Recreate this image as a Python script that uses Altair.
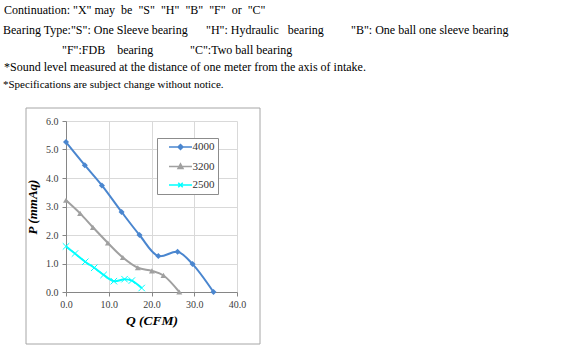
import altair as alt
import pandas as pd

# ---------------- data ----------------
series_names = ["4000", "3200", "2500"]
series_colors = ["#4a86cf", "#a0a0a0", "#00ffff"]

q_4000 = [0.0, 4.4, 8.4, 13.0, 17.2, 21.6, 26.1, 29.6, 34.5]
p_4000 = [5.26, 4.45, 3.74, 2.81, 2.00, 1.26, 1.41, 0.98, 0.00]

q_3200 = [0.0, 3.3, 6.3, 9.8, 13.3, 16.8, 20.1, 22.8, 26.5]
p_3200 = [3.22, 2.76, 2.27, 1.72, 1.21, 0.85, 0.74, 0.58, 0.00]

q_2500 = [0.0, 2.1, 4.5, 6.6, 8.8, 11.2, 13.7, 15.4, 17.7]
p_2500 = [1.60, 1.35, 1.06, 0.85, 0.60, 0.38, 0.45, 0.40, 0.14]

x_ticks = [0, 10, 20, 30, 40]
y_ticks = [0, 1, 2, 3, 4, 5, 6]

header_texts = [
    'Continuation: "X" may\u00a0 be\u00a0 "S"\u00a0 "H"\u00a0 "B"\u00a0 "F"\u00a0 or\u00a0 "C"',
    'Bearing Type:"S": One Sleeve bearing',
    '"H": Hydraulic\u00a0\u00a0 bearing',
    '"B": One ball one sleeve bearing',
    '"F":FDB\u00a0\u00a0\u00a0 bearing',
    '"C":Two ball bearing',
    '*Sound level measured at the distance of one meter from the axis of intake.',
    '*Specifications are subject change without notice.',
]

# ---------------- layout / style ----------------
OX, OY = 66, 121          # plot origin in page pixels
PW, PH = 171, 171          # plot size
header_x = [4, 3, 206, 351, 62, 190, 4, 3]
header_y = [9.5, 29.5, 29.5, 29.5, 49.5, 49.5, 67, 84.5]
header_size = [12, 12, 12, 12, 12, 12, 12, 11]
SERIF = "Liberation Serif"

frames = []
for name, qs, ps in [("4000", q_4000, p_4000), ("3200", q_3200, p_3200), ("2500", q_2500, p_2500)]:
    frames.append(pd.DataFrame({"series": name, "Q": qs, "P": ps}))
df = pd.concat(frames, ignore_index=True)

color_scale = alt.Scale(domain=series_names, range=series_colors)

# legend glyphs: line segment + marker (1 unit = 5 px at symbolSize 100)
legend_paths = [
    "M-2.3,0H2.3M0,-0.5L0.5,0L0,0.5L-0.5,0Z",
    "M-2.3,0H2.3M0,-0.55L0.5,0.4L-0.5,0.4Z",
    "M-2.3,0H2.3M-0.45,-0.45L0.45,0.45M-0.45,0.45L0.45,-0.45",
]

X = alt.X(
    "Q:Q",
    scale=alt.Scale(domain=[0, 40], nice=False, zero=False),
    axis=alt.Axis(
        values=x_ticks, format=".1f", title="Q (CFM)",
        titleFont=SERIF, titleFontStyle="italic", titleFontWeight="bold",
        titleFontSize=13.5, titleColor="black", titlePadding=4,
        labelFont=SERIF, labelFontSize=10, labelColor="#404040", labelPadding=3,
        domainColor="#868686", tickColor="#868686", tickSize=4,
        gridColor="#d9d9d9", labelFlush=False,
    ),
)
Y = alt.Y(
    "P:Q",
    scale=alt.Scale(domain=[0, 6], nice=False),
    axis=alt.Axis(
        values=y_ticks, format=".1f", title="P (mmAq)",
        titleFont=SERIF, titleFontStyle="italic", titleFontWeight="bold",
        titleFontSize=13, titleColor="black", titlePadding=6,
        labelFont=SERIF, labelFontSize=10, labelColor="#404040", labelPadding=4,
        domainColor="#868686", tickColor="#868686", tickSize=4,
        gridColor="#d9d9d9", labelFlush=False,
    ),
)

layers = []

# outer frame around the chart
frame = alt.Chart(alt.Data(values=[{"a": 1}])).mark_rect(
    fill="transparent", stroke="#a6a6a6", strokeWidth=1
).encode(
    x=alt.value(26 - OX), x2=alt.value(260 - OX),
    y=alt.value(108 - OY), y2=alt.value(344 - OY),
)
layers.append(frame)

for t, hx, hy, hs in zip(header_texts, header_x, header_y, header_size):
    layers.append(
        alt.Chart(alt.Data(values=[{"t": t}])).mark_text(
            align="left", baseline="middle", font=SERIF, fontSize=hs, color="black"
        ).encode(text="t:N", x=alt.value(hx - OX), y=alt.value(hy - OY))
    )

leg = alt.Legend(
    title=None, orient="none", legendX=157 - OX, legendY=138 - OY,
    fillColor="white", strokeColor="#8c8c8c", padding=3, rowPadding=7.5,
    symbolSize=100, symbolStrokeWidth=1.5, symbolOffset=14.5, labelOffset=6,
    labelFont=SERIF, labelFontSize=11, labelColor="#333333",
    labelExpr="datum.label + '" + "\u00a0" * 12 + "'",
)
legend_layer = alt.Chart(df).mark_point(filled=False, opacity=1, size=100, strokeWidth=1.5).encode(
    x=X, y=Y,
    color=alt.Color("series:N", scale=color_scale, legend=leg),
    shape=alt.Shape("series:N", scale=alt.Scale(domain=series_names, range=legend_paths), legend=leg),
).transform_filter("false")
layers.append(legend_layer)

lines = alt.Chart(df).mark_line(interpolate="catmull-rom", strokeWidth=2).encode(
    x=X, y=Y, color=alt.Color("series:N", scale=color_scale)
)
layers.append(lines)

p1 = alt.Chart(df).mark_point(shape="diamond", filled=True, size=36, opacity=1).encode(
    x=X, y=Y, color=alt.Color("series:N", scale=color_scale)
).transform_filter(alt.datum.series == "4000")
p2 = alt.Chart(df).mark_point(shape="triangle-up", filled=True, size=36, opacity=1).encode(
    x=X, y=Y, color=alt.Color("series:N", scale=color_scale)
).transform_filter(alt.datum.series == "3200")
p3 = alt.Chart(df).mark_point(
    shape="M-1,-1L1,1M-1,1L1,-1", filled=False, size=42, opacity=1, strokeWidth=1
).encode(
    x=X, y=Y, color=alt.Color("series:N", scale=color_scale)
).transform_filter(alt.datum.series == "2500")
layers += [p1, p2, p3]

chart = alt.layer(*layers).properties(
    width=PW, height=PH,
    autosize="none",
    padding={"left": OX, "top": OY, "right": 570 - OX - PW, "bottom": 353 - OY - PH},
    background="white",
).configure_view(stroke="transparent")

chart.save("out.html", embed_options={"renderer": "svg", "actions": False})
